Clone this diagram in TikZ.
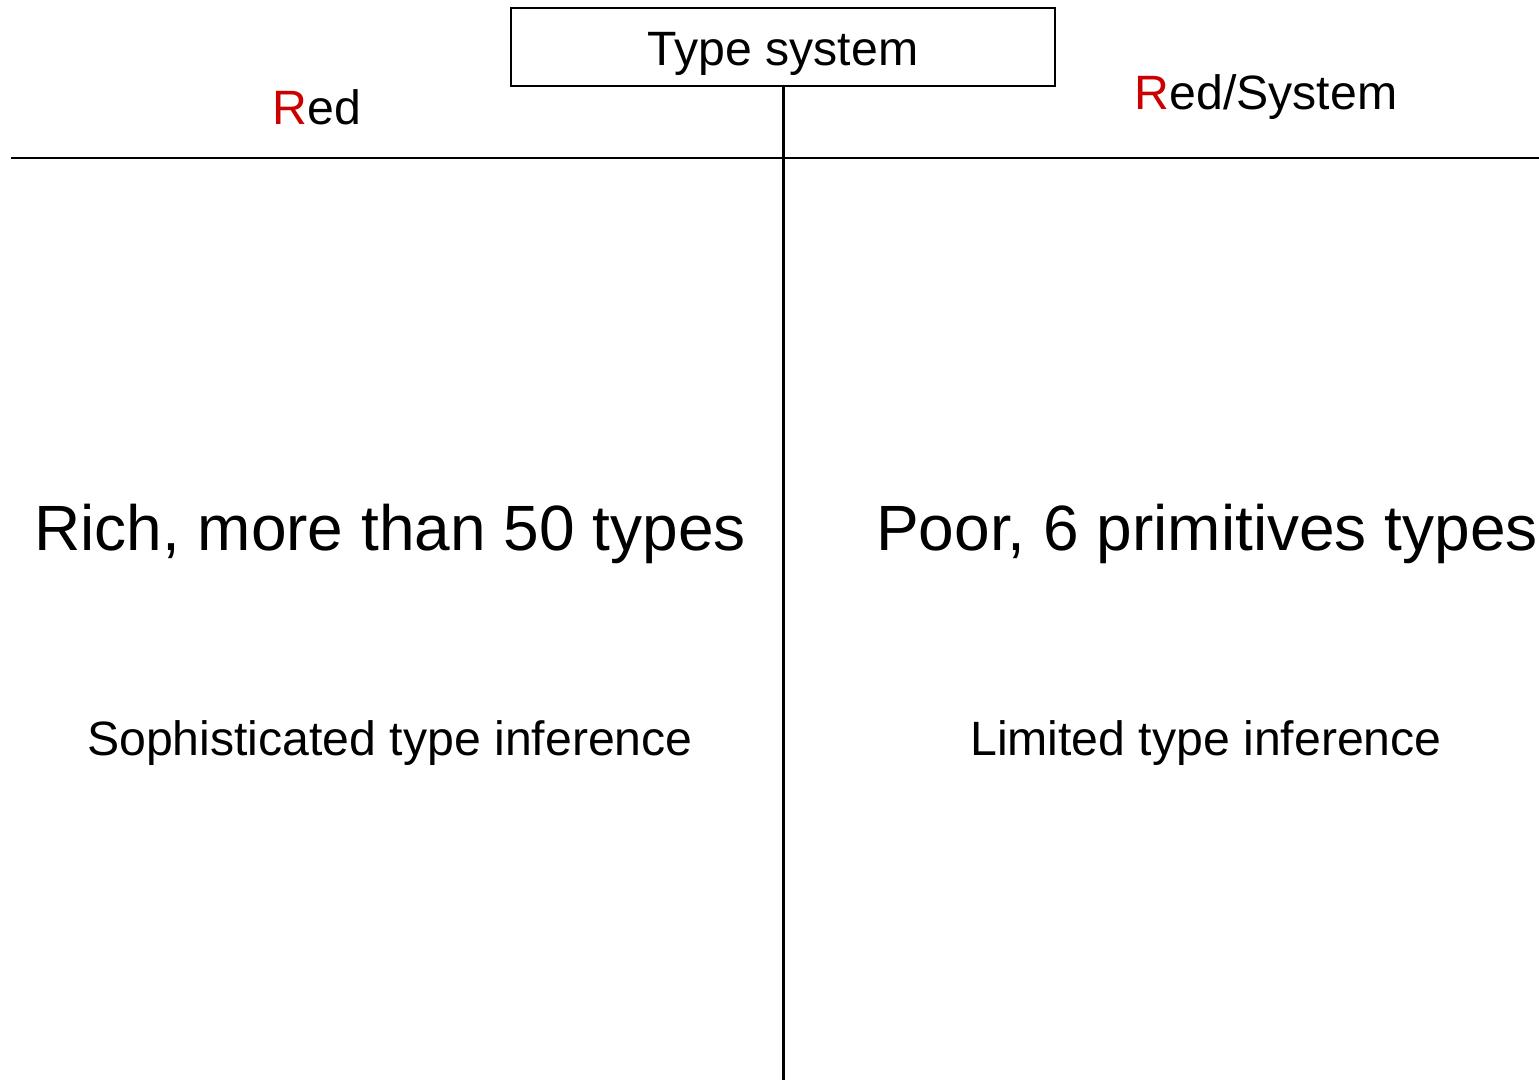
\documentclass[tikz,border=0pt]{standalone}
\usepackage{fontspec}
\setmainfont{Liberation Sans}
\definecolor{redR}{RGB}{204,0,0}
\begin{document}
\begin{tikzpicture}[x=1pt,y=-1pt,
  lbl/.style={anchor=base,inner sep=0pt,font=\fontsize{48.2}{57}\selectfont},
  big/.style={anchor=base,inner sep=0pt,font=\fontsize{64}{76}\selectfont},
  boxstyle/.style={draw,line width=1.5pt,minimum width=544pt,minimum height=78pt,inner sep=0pt}]
\useasboundingbox (0,0) rectangle (1539,1080);
\node[boxstyle] (ts) at (783,47) {};
\node[lbl] (tst) at (783,65) {Type system};
\node[lbl] (red) at (317,124) {\textcolor{redR}{R}ed};
\node[lbl] (rs) at (1266,109) {\textcolor{redR}{R}ed/System};
\coordinate (hl) at (11,158);
\coordinate (hr) at (1539,158);
\coordinate (vb) at (783,1080);
\draw[line width=1.5pt] (hl) -- (hr);
\draw[line width=3pt] (ts.south) -- (vb);
\node[big] (rich) at (390,550) {Rich, more than 50 types};
\node[big] (poor) at (1207,550) {Poor, 6 primitives types};
\node[lbl] (soph) at (390,755) {Sophisticated type inference};
\node[lbl] (lim) at (1206,755) {Limited type inference};
\end{tikzpicture}
\end{document}
